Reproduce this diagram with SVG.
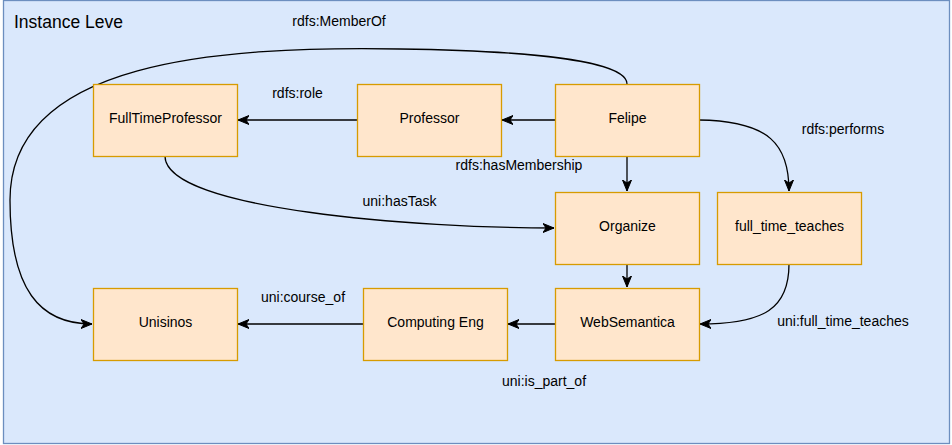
<svg xmlns="http://www.w3.org/2000/svg" width="952" height="445" viewBox="0 0 952 445">
<defs>
<marker id="arr" markerUnits="userSpaceOnUse" markerWidth="12" markerHeight="10" viewBox="0 0 12 10" refX="11" refY="5" orient="auto">
<path d="M0,0.5 L11,5 L0,9.5 L3,5 Z" fill="#000" stroke="#000" stroke-width="1"/>
</marker>
<style>
.node rect{fill:#ffe6cc;stroke:#d79b00;stroke-width:1.3}
.node text{font-family:"Liberation Sans",Arial,sans-serif;font-size:14px;fill:#000;text-anchor:middle;dominant-baseline:central}
.edge{fill:none;stroke:#000;stroke-width:1.3;marker-end:url(#arr)}
.lbl{font-family:"Liberation Sans",Arial,sans-serif;font-size:14px;fill:#000;text-anchor:middle;dominant-baseline:central}
</style>
</defs>
<rect width="952" height="445" fill="#ffffff"/>
<g id="container">
<rect x="3.5" y="0.5" width="946" height="443" fill="#dae8fc" stroke="#6c8ebf" stroke-width="1.3"/>
<text x="14" y="22" font-family="Liberation Sans, Arial, sans-serif" font-size="17.5" dominant-baseline="central" fill="#000">Instance Leve</text>
</g>
<g id="connectors">
<path class="edge" d="M555,120 L502,120"/>
<path class="edge" d="M357,120 L238,120"/>
<path class="edge" d="M627,156 L627,191"/>
<path class="edge" d="M627,264 L627,287"/>
<path class="edge" d="M555,324 L508,324"/>
<path class="edge" d="M363,324 L238,324"/>
<path class="edge" d="M699,120 C770,121 789,145 789,191"/>
<path class="edge" d="M789,264 C789,308 765,324 700,324"/>
<path class="edge" d="M165,156 C165,210 420,228 554,228"/>
<path class="edge" d="M627,84 C627,62 540,51 400,49 C220,46 10,60 10,200 C10,290 40,324 92,324"/>
<text class="lbl" x="339" y="21">rdfs:MemberOf</text>
<text class="lbl" x="297.5" y="93">rdfs:role</text>
<text class="lbl" x="519" y="165">rdfs:hasMembership</text>
<text class="lbl" x="399.5" y="201">uni:hasTask</text>
<text class="lbl" x="843" y="129">rdfs:performs</text>
<text class="lbl" x="843" y="321">uni:full_time_teaches</text>
<text class="lbl" x="544" y="381">uni:is_part_of</text>
<text class="lbl" x="303" y="297">uni:course_of</text>
</g>
<g id="FullTimeProfessor" class="node"><rect x="93.5" y="84.5" width="144" height="72"/><text x="165.5" y="118">FullTimeProfessor</text></g>
<g id="Professor" class="node"><rect x="357.5" y="84.5" width="144" height="72"/><text x="429.5" y="118">Professor</text></g>
<g id="Felipe" class="node"><rect x="555.5" y="84.5" width="144" height="72"/><text x="627.5" y="118">Felipe</text></g>
<g id="Organize" class="node"><rect x="555.5" y="192.5" width="144" height="72"/><text x="627.5" y="226">Organize</text></g>
<g id="full_time_teaches" class="node"><rect x="717.5" y="192.5" width="144" height="72"/><text x="789.5" y="226">full_time_teaches</text></g>
<g id="Unisinos" class="node"><rect x="93.5" y="288.5" width="144" height="72"/><text x="165.5" y="322">Unisinos</text></g>
<g id="ComputingEng" class="node"><rect x="363.5" y="288.5" width="144" height="72"/><text x="435.5" y="322">Computing Eng</text></g>
<g id="WebSemantica" class="node"><rect x="555.5" y="288.5" width="144" height="72"/><text x="627.5" y="322">WebSemantica</text></g>
</svg>
